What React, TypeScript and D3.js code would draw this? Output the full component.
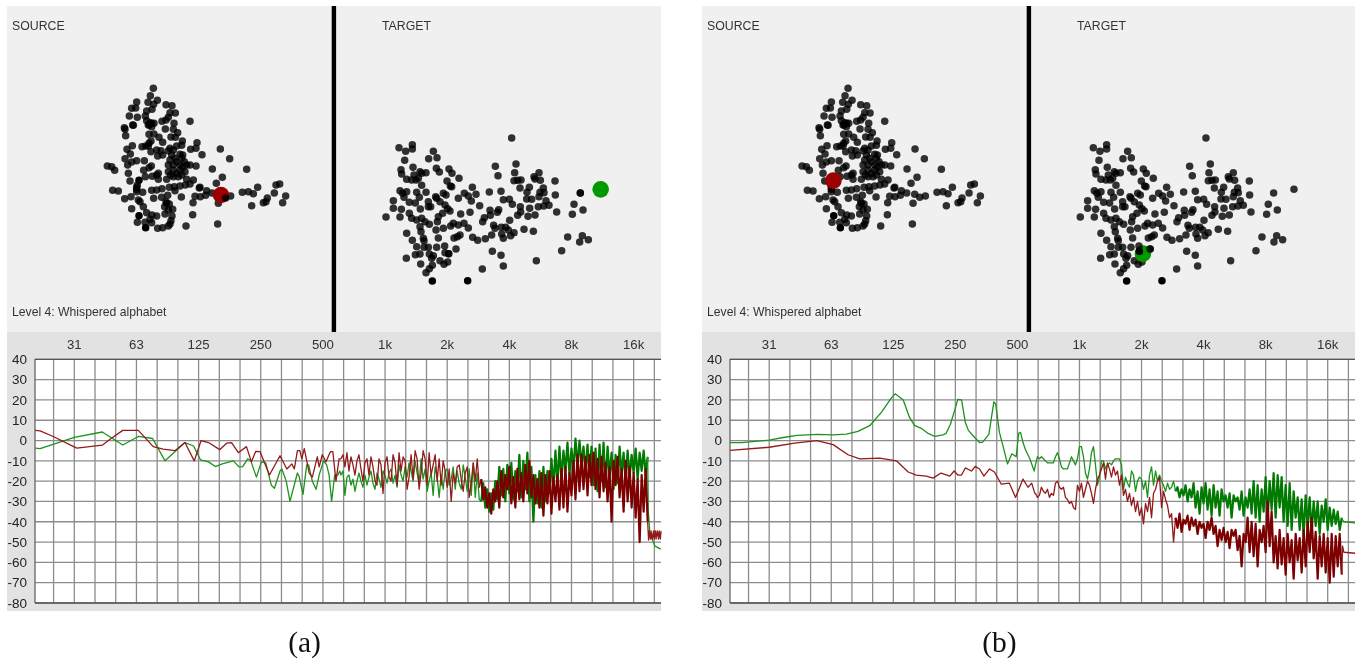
import React from 'react';
import * as d3 from 'd3';

// map coordinates of the timbre-space dots, same cloud in both panels
const sourcePoints = [
  [460,85],[451,107],[472,121],[444,127],[461,133],[410,126],[498,134],[516,137],[395,145],[407,144],[456,148],[440,153],[526,159],[510,158],[388,168],[412,172],[436,168],[505,172],[498,180],[486,184],[570,184],[440,182],[450,188],[462,190],[522,190],[398,195],[400,196],[373,203],[375,208],[455,200],[448,195],[496,207],[520,208],[533,218],[377,227],[447,223],[462,222],[513,231],[526,232],[477,232],[453,243],[447,250],[488,247],[547,243],[591,248],[397,257],[426,260],[437,258],[445,258],[545,256],[530,258],[510,265],[572,268],[588,265],[661,267],[381,268],[453,275],[470,270],[483,272],[505,272],[520,270],[391,282],[473,288],[488,285],[540,283],[606,284],[375,296],[433,302],[410,302],[395,306],[383,315],[510,300],[525,295],[545,295],[553,305],[689,296],[322,318],[335,320],[344,331],[454,318],[447,323],[505,315],[520,315],[540,315],[560,315],[570,315],[588,318],[431,331],[637,327],[740,328],[385,340],[475,340],[470,345],[505,335],[520,330],[540,330],[555,335],[436,350],[457,349],[475,358],[500,358],[520,350],[535,350],[545,345],[667,352],[390,363],[560,358],[580,360],[570,372],[556,375],[649,370],[540,378],[523,380],[508,382],[410,382],[486,386],[600,382],[598,384],[773,382],[828,375],[839,372],[338,391],[355,393],[410,388],[428,397],[455,391],[470,390],[525,392],[620,392],[636,399],[660,403],[675,412],[727,397],[745,395],[760,401],[823,399],[857,408],[374,416],[393,410],[415,420],[420,425],[461,415],[485,412],[503,406],[544,411],[585,409],[601,410],[617,406],[692,408],[802,414],[798,425],[790,428],[848,428],[579,428],[655,430],[755,437],[500,430],[508,432],[430,440],[395,446],[518,448],[505,450],[440,458],[495,462],[578,464],[456,465],[470,468],[450,478],[516,468],[513,482],[412,487],[435,487],[455,488],[510,492],[653,492],[558,498],[473,505],[488,503],[505,498],
  [515,285],[530,305],[548,322],[512,345],[530,340],[548,285],[455,190],[410,395],[412,375],[498,425],[494,440],[445,195],
];
const sourceSolid = [[417,361],[417,467],[437,503]];

const targetPoints = [
  [515,84],[217,104],[177,113],[217,117],[197,124],[280,124],[266,146],[291,143],[194,151],[466,169],[528,162],[219,172],[289,175],[327,177],[183,179],[185,192],[240,185],[258,188],[298,186],[336,190],[524,188],[474,197],[597,188],[582,200],[222,195],[200,208],[215,210],[228,210],[235,205],[245,190],[357,205],[321,213],[522,212],[533,211],[543,210],[601,211],[645,213],[585,207],[245,226],[335,230],[331,228],[540,234],[568,232],[610,234],[180,242],[200,245],[188,250],[192,262],[230,247],[258,247],[310,250],[318,255],[373,250],[397,232],[408,253],[385,258],[448,246],[483,244],[561,247],[612,248],[600,247],[646,255],[597,260],[238,262],[355,265],[287,260],[290,265],[160,272],[208,277],[226,279],[265,275],[300,275],[315,285],[394,273],[490,269],[508,268],[560,267],[575,268],[618,272],[517,283],[265,290],[272,290],[323,296],[419,287],[541,290],[569,295],[595,290],[611,288],[627,286],[702,283],[160,295],[184,298],[241,297],[330,303],[450,301],[476,299],[542,306],[650,306],[729,300],[208,310],[308,310],[362,312],[390,307],[472,307],[138,321],[180,321],[215,325],[245,325],[295,320],[433,323],[451,316],[533,316],[564,319],[585,315],[697,313],[230,330],[255,335],[268,343],[292,335],[428,335],[509,331],[240,350],[288,360],[310,355],[332,348],[340,340],[355,345],[372,340],[385,354],[461,346],[465,355],[484,352],[497,352],[552,358],[580,364],[200,370],[243,365],[505,360],[522,368],[485,372],[490,385],[512,377],[455,375],[436,386],[360,375],[352,380],[342,384],[398,382],[413,391],[295,384],[250,385],[252,392],[217,391],[683,381],[727,377],[745,389],[719,396],[230,410],[252,412],[265,412],[290,412],[348,417],[457,424],[483,436],[665,422],[226,434],[240,432],[268,432],[280,437],[199,445],[275,445],[300,452],[323,456],[312,463],[242,462],[277,466],[490,468],[589,452],[427,477],[268,476],[258,488],
];
const targetSolid = [[277,513],[383,512]];
// dots that sit on top of the markers / only show up in one panel
const overlayA = {source: [[677,414]], target: [[721,249],[721,249],[326,431],[326,431],[314,408],[315,428]]};
const overlayB = {source: [], target: [[718,249],[779,238],[314,408],[315,424],[315,424],[347,417]]};

const markerA = {source: [663,405], target: [782,238]};
const markerB = {source: [416,362], target: [326,431]};

// spectra: [octaves above 31.25 Hz, dB] for the sparse low end
const greenHeadA = [[-0.63,-3.7],[-0.55,-4],[0,1.5],[0.45,4.2],[0.78,-2.2],[1.03,2],[1.26,1],[1.46,-10],[1.78,-1],[1.92,-2.7],[2.03,-9.5],[2.16,-10.5],[2.27,-12.8],[2.38,-11.5],[2.56,-10],[2.65,-13],[2.71,-12.8],[2.79,-9],[2.84,-10],[2.93,-18],[3.01,-10.5],[3.08,-11],[3.17,-22],[3.22,-23.5],[3.31,-15],[3.34,-14],[3.41,-20],[3.47,-30],[3.59,-16],[3.62,-18],[3.68,-26.5],[3.74,-12],[3.77,-12],[3.83,-20],[3.89,-24],[3.94,-17],[4.01,-10],[4.06,-12],[4.10,-17],[4.14,-30],[4.19,-17],[4.24,-17],[4.27,-15]];
const redHeadA = [[-0.63,5],[-0.55,4.8],[-0.34,2],[0.04,-3.7],[0.45,-2.3],[0.57,0.5],[0.78,5],[1.03,5],[1.27,-3],[1.43,-4.2],[1.62,-5],[1.78,-1],[1.93,-10],[2.04,0],[2.16,-1],[2.34,-4.5],[2.45,-1.3],[2.53,-1],[2.64,-6],[2.77,-3],[2.85,-10.5],[2.92,-5.3],[2.99,-5.5],[3.14,-17],[3.31,-7.5],[3.42,-14],[3.50,-11.5],[3.54,-14],[3.59,-5],[3.63,-5],[3.66,-9],[3.70,-4],[3.78,-16],[3.83,-18],[3.91,-8],[3.94,-13],[3.99,-7],[4.05,-10.5],[4.12,-5.5],[4.16,-5.5],[4.21,-20],[4.26,-9]];
const greenHeadB = [[-0.63,-1],[-0.445,-1],[0,0.2],[0.225,1.5],[0.45,2.5],[0.78,3],[1.03,2.8],[1.245,3.2],[1.43,4.5],[1.62,7.3],[1.81,14],[1.97,21],[2.03,23],[2.16,20],[2.26,11.5],[2.34,7.5],[2.45,6],[2.56,3.5],[2.67,2],[2.80,2.8],[2.85,3.5],[2.92,8],[2.99,15],[3.04,20.3],[3.10,20],[3.16,9],[3.21,5],[3.31,1.5],[3.39,-1],[3.44,-0.8],[3.54,3],[3.62,19],[3.65,18],[3.71,4],[3.77,-3],[3.84,-11.5],[3.91,-6.5],[3.98,-8],[4.02,3.5],[4.05,4],[4.09,-1],[4.13,-4.5],[4.20,-9],[4.27,-15]];
const redHeadB = [[-0.63,-4.8],[0,-3.3],[0.41,-1.3],[0.77,0],[1.03,-2],[1.27,-7],[1.46,-9],[1.78,-8.7],[2.05,-10],[2.24,-15.5],[2.37,-17],[2.53,-17.5],[2.64,-18.5],[2.77,-16],[2.91,-17.5],[2.98,-15],[3.04,-17],[3.10,-17],[3.16,-13.5],[3.26,-15],[3.32,-12.7],[3.39,-14],[3.46,-17.5],[3.55,-14],[3.63,-15.5],[3.74,-21.5],[3.87,-21],[3.97,-28],[4.09,-19],[4.17,-23],[4.23,-21],[4.28,-26]];

// dB read every 1/31 octave from denseStart up, where the traces turn into a band
const denseStart = 4.29;
const denseStep = 1 / 31;
const thinValues = 70; // below this index the trace is still a single thin line
const greenDenseA = [
  -17,-15,-27,-18,-17,-22,-19,-25,-20,-16,
  -20,-23,-17,-22,-18,-15,-21,-24,-16,-19,
  -23,-15,-17,-21,-16,-14,-21,-17,-23,-12,
  -17,-20,-13,-18,-11,-15,-20,-10,-16,-21,
  -9,-19,-14,-25,-20,-16,-27,-13,-18,-28,
  -17,-24,-15,-14,-22,-19,-13,-24,-15,-21,
  -24,-12,-18,-25,-14,-27,-11,-28,-16,-29,
  -30,-21,-33,-24,-35,-26,-34,-20,-29,-13,
  -27,-14,-30,-12,-26,-11,-29,-15,-25,-7,
  -28,-10,-24,-6,-30,-13,-40,-17,-31,-15,
  -33,-13,-30,-15,-26,-9,-24,-5,-22,-3,
  -20,-5,-15,-1,-17,-4,-14,1,-13,0,
  -12,-3,-16,-2,-18,-3,-22,-4,-25,-2,
  -20,-1,-23,-3,-18,-6,-24,-7,-21,-3,
  -17,-6,-20,-5,-18,-7,-16,-4,-19,-6,
  -15,-5,-17,-8,
];
const redDenseA = [
  -9,-7,-13,-6,-15,-8,-12,-17,-10,-7,
  -14,-20,-11,-9,-17,-8,-13,-20,-22,-9,
  -12,-26,-11,-8,-18,-20,-7,-11,-22,-6,
  -15,-8,-10,-24,-18,-7,-19,-5,-9,-24,
  -16,-5,-9,-22,-6,-17,-12,-7,-20,-9,
  -22,-10,-15,-23,-14,-30,-16,-21,-13,-12,
  -19,-25,-16,-13,-28,-21,-11,-20,-9,-23,
  -19,-29,-23,-33,-26,-36,-24,-30,-20,-33,
  -15,-28,-17,-24,-13,-31,-18,-33,-14,-29,
  -16,-30,-12,-26,-10,-28,-17,-31,-19,-33,
  -16,-37,-17,-31,-15,-36,-18,-30,-17,-34,
  -14,-33,-13,-35,-16,-27,-10,-29,-7,-25,
  -7,-24,-8,-27,-7,-22,-6,-24,-9,-28,
  -8,-25,-11,-30,-13,-40,-10,-22,-8,-28,
  -14,-35,-10,-30,-13,-33,-16,-38,-19,-50,
  -17,-35,-14,-40,
];
const greenDenseB = [
  -12,-8,-9,-8,-9,-10,-11,-11,-11,-11,
  -8,-6,-9,-13,-14,-14,-14,-11,-8,-10,
  -12,-9,-3,-3,-8,-16,-19,-14,-6,-3,
  -12,-22,-18,-10,-10,-14,-12,-11,-12,-10,
  -9,-9,-9,-12,-24,-18,-21,-23,-15,-17,
  -25,-20,-18,-19,-24,-20,-28,-17,-13,-22,
  -15,-20,-17,-20,-22,-25,-21,-24,-23,-20,
  -25,-23,-28,-24,-27,-22,-30,-24,-28,-21,
  -33,-25,-36,-23,-31,-21,-34,-24,-37,-22,
  -33,-25,-37,-24,-30,-27,-33,-26,-38,-27,
  -30,-28,-34,-25,-37,-28,-33,-24,-36,-20,
  -38,-22,-40,-24,-35,-18,-39,-20,-34,-16,
  -38,-17,-33,-18,-40,-22,-42,-21,-44,-25,
  -38,-28,-44,-29,-47,-27,-43,-28,-45,-30,
  -42,-30,-46,-32,-40,-29,-44,-33,-42,-34,
  -41,-35,-44,-38,
];
const redDenseB = [
  -26,-28,-27,-23,-25,-26,-24,-28,-26,-27,
  -21,-20,-23,-24,-23,-28,-29,-31,-30,-33,
  -34,-22,-25,-21,-28,-24,-20,-22,-26,-31,
  -24,-19,-17,-14,-11,-19,-11,-14,-18,-13,
  -17,-15,-22,-17,-27,-24,-30,-26,-32,-28,
  -35,-30,-37,-33,-41,-31,-35,-28,-38,-26,
  -24,-20,-18,-33,-25,-29,-32,-38,-36,-50,
  -38,-43,-36,-45,-39,-41,-37,-44,-38,-42,
  -39,-46,-40,-43,-41,-48,-40,-44,-38,-46,
  -42,-52,-44,-49,-43,-50,-45,-53,-44,-47,
  -44,-54,-47,-62,-46,-50,-38,-55,-40,-57,
  -41,-62,-44,-50,-42,-55,-30,-52,-35,-60,
  -47,-63,-44,-61,-48,-66,-46,-60,-49,-68,
  -46,-59,-48,-65,-44,-62,-40,-55,-38,-58,
  -45,-68,-47,-62,-46,-65,-48,-70,-46,-67,
  -47,-62,-46,-66,
];
const greenTailA = [[9.236,-35],[9.263,-46],[9.344,-52],[9.435,-53.5]];
const redTailA = [[9.24,-49],[9.25,-44.5],[9.27,-48.5],[9.28,-44.5],[9.30,-48.5],[9.32,-44.5],[9.33,-48.5],[9.35,-44.5],[9.36,-48.5],[9.38,-44.5],[9.40,-48.5],[9.41,-44.5],[9.43,-48.5],[9.44,-44.5]];
const greenTailB = [[9.24,-39],[9.26,-40],[9.44,-40.5]];
const redTailB = [[9.24,-52],[9.26,-55],[9.44,-55.5]];

const octaveLabels = ['31','63','125','250','500','1k','2k','4k','8k','16k'];
const dbTicks = [40,30,20,10,0,-10,-20,-30,-40,-50,-60,-70,-80];
const gridSteps = d3.range(-1, 29); // third-octave lines relative to 31.25 Hz

const base = 31.25;
const hz = (oct: number) => base * 2 ** oct;
const denseRows = (dense: number[]) => dense.map((db, i) => [denseStart + i * denseStep, db]);

const sx = d3.scaleLinear().domain([0, 1020]).range([0, 340]);
const sy = d3.scaleLinear().domain([0, 810]).range([60, 330]);
const tx = d3.scaleLinear().domain([0, 975]).range([340, 665]);
const ty = d3.scaleLinear().domain([0, 660]).range([110, 330]);
const y = d3.scaleLinear().domain([40, -80]).range([359.3, 603]);

const font = '"Liberation Sans", Arial, sans-serif';
const plotLeft = 35;
const dotR = 3.75;

function Trace({x, head, dense, tail, thinColor, color}: any) {
  const line = d3.line<number[]>().x(d => x(hz(d[0]))).y(d => y(d[1]));
  const rows = denseRows(dense);
  const thin = [...head, ...rows.slice(0, thinValues + 1)];
  const thick = rows.slice(thinValues);
  const end = [rows[rows.length - 1], ...tail];
  return (
    <g fill="none" strokeLinejoin="round">
      <path d={line(thin) || ''} stroke={thinColor} strokeWidth={1.3} />
      <path d={line(thick) || ''} stroke={color} strokeWidth={2.2} />
      <path d={line(end) || ''} stroke={thinColor} strokeWidth={1.3} />
    </g>
  );
}

function Panel({dx, x16k, x31, sourceShift, targetShift, right, overlay, marker, green, red, caption}: any) {
  const x = d3.scaleLog().domain([base, 16000]).range([x31, x16k]);
  const dot = (p: number[], i: number, scaleX: any, scaleY: any, shift: number) => (
    <circle key={i} cx={scaleX(p[0]) + shift} cy={scaleY(p[1])} r={dotR} fill="#000" fillOpacity={0.8} />
  );
  return (
    <g transform={`translate(${dx},0)`} fontFamily={font}>
      <rect x={7} y={6} width={right - 7} height={326} fill="#f0f0f0" />
      <rect x={7} y={332} width={right - 7} height={279} fill="#e2e2e2" />
      <rect x={plotLeft} y={359} width={right - plotLeft} height={244} fill="#fff" />
      <rect x={331.7} y={6} width={4.4} height={326} fill="#000" />

      <text x={12} y={30} fontSize={12.3} fill="#333">SOURCE</text>
      <text x={382} y={30} fontSize={12.3} fill="#333">TARGET</text>
      <text x={12} y={316} fontSize={12.2} fill="#333">Level 4: Whispered alphabet</text>

      {sourcePoints.map((p, i) => dot(p, i, sx, sy, sourceShift))}
      {sourceSolid.map((p, i) => (
        <circle key={i} cx={sx(p[0]) + sourceShift} cy={sy(p[1])} r={dotR} fill="#000" />
      ))}
      {targetPoints.map((p, i) => dot(p, i, tx, ty, targetShift))}
      {targetSolid.map((p, i) => (
        <circle key={i} cx={tx(p[0]) + targetShift} cy={ty(p[1])} r={dotR} fill="#000" />
      ))}
      <circle cx={sx(marker.source[0]) + sourceShift} cy={sy(marker.source[1])} r={8.3} fill="#9c0000" />
      <circle cx={tx(marker.target[0]) + targetShift} cy={ty(marker.target[1])} r={8.3} fill="#009a00" />
      {overlay.source.map((p: number[], i: number) => dot(p, i, sx, sy, sourceShift))}
      {overlay.target.map((p: number[], i: number) => dot(p, i, tx, ty, targetShift))}

      {gridSteps.map(k => (
        <line key={k} x1={x(hz(k / 3))} x2={x(hz(k / 3))} y1={359} y2={603} stroke="#8c8c8c" strokeWidth={1.3} />
      ))}
      {dbTicks.map(d => (
        <line key={d} x1={plotLeft} x2={right} y1={y(d)} y2={y(d)} stroke="#8c8c8c" strokeWidth={1.3} />
      ))}
      <line x1={plotLeft} x2={plotLeft} y1={359} y2={603} stroke="#666" strokeWidth={1.3} />
      <line x1={plotLeft} x2={right} y1={359.3} y2={359.3} stroke="#555" strokeWidth={1.3} />
      <line x1={plotLeft} x2={right} y1={603} y2={603} stroke="#555" strokeWidth={1.3} />

      <Trace x={x} thinColor="#1c931c" color="#007a00" {...green} />
      <Trace x={x} thinColor="#921a1a" color="#7c0000" {...red} />

      {octaveLabels.map((t, i) => (
        <text key={t} x={x(hz(i))} y={348.5} textAnchor="middle" fontSize={13.2} fill="#333">{t}</text>
      ))}
      {dbTicks.map(d => (
        <text key={d} x={27} y={y(d) + 4.8} textAnchor="end" fontSize={13.5} fill="#222">{d}</text>
      ))}
      <text x={304.5} y={652} textAnchor="middle" fontSize={29.5} fontFamily='"Liberation Serif", serif' fill="#111">{caption}</text>
    </g>
  );
}

export default function App() {
  return (
    <svg width={1367} height={666} style={{position: 'absolute', left: 0, top: 0, background: '#fff'}}>
      <defs>
        <filter id="soft" x="0" y="0" width="100%" height="100%" colorInterpolationFilters="sRGB">
          <feGaussianBlur stdDeviation={0.45} />
        </filter>
      </defs>
      <g filter="url(#soft)">
        <Panel dx={0} x31={74.3} x16k={633.65} sourceShift={0} targetShift={0} right={661}
          overlay={overlayA} marker={markerA} caption="(a)"
          green={{head: greenHeadA, dense: greenDenseA, tail: greenTailA}}
          red={{head: redHeadA, dense: redDenseA, tail: redTailA}} />
        <Panel dx={695} x31={74.2} x16k={632.7} sourceShift={-0.3} targetShift={-0.7} right={660}
          overlay={overlayB} marker={markerB} caption="(b)"
          green={{head: greenHeadB, dense: greenDenseB, tail: greenTailB}}
          red={{head: redHeadB, dense: redDenseB, tail: redTailB}} />
      </g>
    </svg>
  );
}
